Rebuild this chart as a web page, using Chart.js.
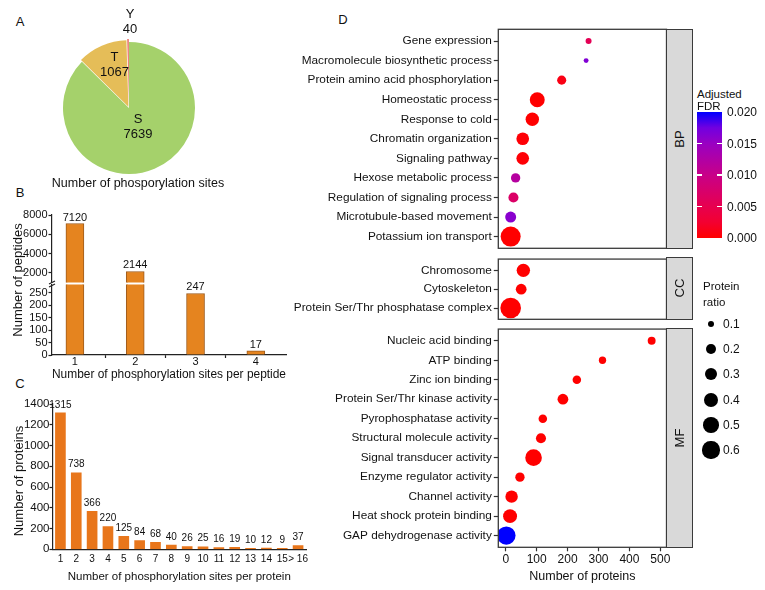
<!DOCTYPE html>
<html>
<head>
<meta charset="utf-8">
<script src="https://cdn.jsdelivr.net/npm/chart.js@4.4.1/dist/chart.umd.min.js"></script>
<style>
  html, body { margin: 0; padding: 0; background: #fff; }
  #page { position: relative; width: 765px; height: 590px; overflow: hidden; font-family: Arial, "Liberation Sans", sans-serif; color: #111; }
  canvas { position: absolute; }
  .c { position: absolute; transform: translate(-50%, -50%); white-space: nowrap; line-height: 1; }
  .l { position: absolute; transform: translateY(-50%); white-space: nowrap; line-height: 1; }
  .v { position: absolute; width: 140px; height: 16px; margin-left: -70px; margin-top: -8px; line-height: 16px;
       text-align: center; transform: rotate(-90deg); white-space: nowrap; color: #111; }
  .strip { position: absolute; background: #d9d9d9; border: 1.3px solid #3a3a3a; box-sizing: border-box; }
</style>
</head>
<body>
<div id="page">
  <div class="c" style="left:20px;top:21px;font-size:13px">A</div>
  <div class="c" style="left:20px;top:192px;font-size:13px">B</div>
  <div class="c" style="left:20px;top:383px;font-size:13px">C</div>
  <div class="c" style="left:343px;top:19px;font-size:13px">D</div>

  <canvas id="pie" width="138" height="138" style="left:60px;top:39px"></canvas>
  <div class="c" style="left:138px;top:183px;font-size:12.5px">Number of phosporylation sites</div>

  <canvas id="pepHigh" width="300" height="90" style="left:0;top:205px"></canvas>
  <canvas id="pepLow" width="300" height="115" style="left:0;top:270px"></canvas>
  <div class="v" style="left:18px;top:280px;font-size:13px">Number of peptides</div>

  <canvas id="prot" width="320" height="205" style="left:0;top:385px"></canvas>
  <div class="v" style="left:19px;top:481px;font-size:13px">Number of proteins</div>

  <canvas id="bp" width="390" height="240" style="left:290px;top:20px"></canvas>
  <canvas id="cc" width="390" height="80" style="left:290px;top:250px"></canvas>
  <canvas id="mf" width="390" height="270" style="left:290px;top:320px"></canvas>

  <div class="strip" style="left:666px;top:29px;width:27px;height:220px"></div>
  <div class="v" style="left:680px;top:139px;font-size:13px">BP</div>
  <div class="strip" style="left:666px;top:257px;width:27px;height:63px"></div>
  <div class="v" style="left:680px;top:288px;font-size:13px">CC</div>
  <div class="strip" style="left:666px;top:328px;width:27px;height:220px"></div>
  <div class="v" style="left:680px;top:438px;font-size:13px">MF</div>

  <div class="l" style="left:697px;top:95px;font-size:11.5px">Adjusted</div>
  <div class="l" style="left:697px;top:107px;font-size:11.5px">FDR</div>
  <div class="l" style="left:703px;top:287px;font-size:11.5px">Protein</div>
  <div class="l" style="left:703px;top:303px;font-size:11.5px">ratio</div>
  <div id="legends"></div>
</div>
<script>
// A: residue types
const residues = ['S', 'T', 'Y'];
const residueSites = [7639, 1067, 40];

// B: phosphorylation sites per peptide (axis broken between 283 and 1000)
const sitesPerPeptide = [1, 2, 3, 4];
const peptideCounts = [7120, 2144, 247, 17];
const peptideTicksHigh = [2000, 4000, 6000, 8000];
const peptideTicksLow = [0, 50, 100, 150, 200, 250];
const breakLow = 283;
const breakHigh = 1000;

// C: phosphorylation sites per protein
const sitesPerProtein = ['1', '2', '3', '4', '5', '6', '7', '8', '9', '10', '11', '12', '13', '14', '15', '> 16'];
const proteinCounts = [1315, 738, 366, 220, 125, 84, 68, 40, 26, 25, 16, 19, 10, 12, 9, 37];
const proteinTicks = [0, 200, 400, 600, 800, 1000, 1200, 1400];

// D: GO enrichment
const bpTerms = ['Gene expression', 'Macromolecule biosynthetic process', 'Protein amino acid phosphorylation',
  'Homeostatic process', 'Response to cold', 'Chromatin organization', 'Signaling pathway',
  'Hexose metabolic process', 'Regulation of signaling process', 'Microtubule-based movement', 'Potassium ion transport'];
const bpProteins = [268, 260, 181, 102, 86, 55, 55, 32, 25, 16, 16];
const bpRatio = [0.074, 0.05, 0.17, 0.46, 0.37, 0.33, 0.33, 0.18, 0.21, 0.25, 0.83];
const bpFdr = [0.0055, 0.0165, 0.001, 0, 0, 0.0003, 0.0003, 0.012, 0.007, 0.016, 0];

const ccTerms = ['Chromosome', 'Cytoskeleton', 'Protein Ser/Thr phosphatase complex'];
const ccProteins = [57, 50, 16];
const ccRatio = [0.37, 0.24, 0.88];
const ccFdr = [0, 0, 0];

const mfTerms = ['Nucleic acid binding', 'ATP binding', 'Zinc ion binding', 'Protein Ser/Thr kinase activity',
  'Pyrophosphatase activity', 'Structural molecule activity', 'Signal transducer activity',
  'Enzyme regulator activity', 'Channel activity', 'Heat shock protein binding', 'GAP dehydrogenase activity'];
const mfProteins = [472, 313, 230, 185, 120, 114, 90, 46, 19, 14, 2];
const mfRatio = [0.13, 0.11, 0.15, 0.24, 0.15, 0.21, 0.57, 0.18, 0.32, 0.40, 0.70];
const mfFdr = [0, 0, 0, 0, 0, 0, 0, 0, 0, 0, 0.02];

const goTicks = [0, 100, 200, 300, 400, 500];
const fdrTicks = [0, 0.005, 0.01, 0.015, 0.02];
const ratioLegend = [0.1, 0.2, 0.3, 0.4, 0.5, 0.6];

const FONT = 'Arial, "Liberation Sans", sans-serif';
Chart.defaults.font.family = FONT;
Chart.defaults.color = '#111';
Chart.defaults.animation = false;
Chart.defaults.events = [];
Chart.defaults.plugins.legend.display = false;
Chart.defaults.plugins.tooltip.enabled = false;

const AXIS = '#222';
const fdrMax = 0.02;
const fdrStops = [[0, [255, 0, 0]], [0.125, [243, 0, 49]], [0.25, [231, 0, 79]], [0.5, [200, 0, 136]],
  [0.75, [153, 0, 194]], [0.875, [113, 0, 224]], [1, [0, 0, 255]]];

function fdrColor(v) {
  const t = Math.min(Math.max(v / fdrMax, 0), 1);
  for (let i = 1; i < fdrStops.length; i++) {
    const [t0, c0] = fdrStops[i - 1];
    const [t1, c1] = fdrStops[i];
    if (t <= t1) {
      const f = (t - t0) / (t1 - t0);
      return 'rgb(' + c0.map((c, k) => Math.round(c + (c1[k] - c) * f)).join(',') + ')';
    }
  }
  return 'rgb(0,0,255)';
}

function bubbleRadius(ratio) {
  return 11 * Math.sqrt(ratio);
}

const fixWidth = w => scale => { scale.width = w; };
const fixHeight = h => scale => { scale.height = h; };
const setTicks = values => scale => { scale.ticks = values.map(value => ({ value })); };

const valueLabels = {
  id: 'valueLabels',
  afterDatasetsDraw(chart, args, opts) {
    const { ctx } = chart;
    const yScale = chart.scales.y;
    const ds = chart.data.datasets[0];
    ctx.save();
    ctx.font = opts.size + 'px ' + FONT;
    ctx.fillStyle = '#111';
    ctx.textAlign = 'center';
    ctx.textBaseline = 'bottom';
    chart.getDatasetMeta(0).data.forEach((bar, i) => {
      const raw = ds.data[i];
      const v = raw && typeof raw === 'object' ? raw.y : raw;
      if (v == null || v > yScale.max) return;
      ctx.fillText(String(v), bar.x, bar.y - opts.gap);
    });
    ctx.restore();
  }
};

const framePlugin = {
  id: 'frame',
  afterDatasetsDraw(chart) {
    const { ctx, chartArea: a } = chart;
    ctx.save();
    ctx.strokeStyle = '#3a3a3a';
    ctx.lineWidth = 1.3;
    ctx.strokeRect(a.left, a.top, a.right - a.left, a.bottom - a.top);
    ctx.restore();
  }
};

const axisBreak = {
  id: 'axisBreak',
  afterDraw(chart) {
    const { ctx, chartArea: a } = chart;
    ctx.save();
    ctx.strokeStyle = AXIS;
    ctx.lineWidth = 1.1;
    [-2, 1].forEach(d => {
      ctx.beginPath();
      ctx.moveTo(a.left - 3, a.top + d + 1.5);
      ctx.lineTo(a.left + 3, a.top + d - 1.5);
      ctx.stroke();
    });
    ctx.restore();
  }
};

// ---- A: pie
new Chart(document.getElementById('pie'), {
  type: 'pie',
  data: {
    labels: residues,
    datasets: [{
      data: residueSites,
      backgroundColor: ['#a5d16b', '#e5bd58', '#e8645c'],
      borderWidth: 0,
      offset: [0, 6, 6]
    }]
  },
  options: { responsive: false, layout: { padding: 0 } }
});

const pieLabelAt = [[138, 126], [114.5, 64], [130, 21]];
residues.forEach((r, i) => {
  const [x, y] = pieLabelAt[i];
  const el = document.createElement('div');
  el.className = 'c';
  el.style.cssText = `left:${x}px;top:${y}px;font-size:13px;line-height:15px;text-align:center`;
  el.innerHTML = r + '<br>' + residueSites[i];
  document.getElementById('page').appendChild(el);
});

// ---- B: broken-axis bars
const pepX = {
  type: 'linear', min: 0.62, max: 4.5, offset: false
};
const pepXTicks = [];
sitesPerPeptide.forEach((v, i) => {
  pepXTicks.push(v);
  if (i < sitesPerPeptide.length - 1) pepXTicks.push(v + 0.5);
});
const pepBar = {
  backgroundColor: '#e5841f',
  borderColor: '#9c5a1c',
  borderWidth: 1,
  barThickness: 18
};
const pepYBase = {
  border: { color: AXIS, width: 1.2 },
  grid: { drawOnChartArea: false, tickLength: 3.5, tickColor: AXIS, tickWidth: 1.2 },
  ticks: { font: { size: 11 }, padding: 1, autoSkip: false, callback: v => String(v) },
  afterFit: fixWidth(52)
};

new Chart(document.getElementById('pepHigh'), {
  type: 'bar',
  data: {
    datasets: [{
      ...pepBar,
      data: sitesPerPeptide.map((x, i) => ({ x, y: peptideCounts[i] > breakLow ? peptideCounts[i] : null }))
    }]
  },
  options: {
    responsive: false,
    layout: { padding: { top: 10, right: 14, bottom: 12.5, left: 0 } },
    scales: {
      x: { ...pepX, display: false, grid: { offset: false } },
      y: { ...pepYBase, min: breakHigh, max: 8000, afterBuildTicks: setTicks(peptideTicksHigh) }
    },
    plugins: { valueLabels: { size: 11, gap: 0.5 } }
  },
  plugins: [valueLabels]
});

new Chart(document.getElementById('pepLow'), {
  type: 'bar',
  data: {
    datasets: [{
      ...pepBar,
      clip: 0,
      data: sitesPerPeptide.map((x, i) => ({ x, y: peptideCounts[i] }))
    }]
  },
  options: {
    responsive: false,
    layout: { padding: { top: 14.5, right: 14, bottom: 0, left: 0 } },
    scales: {
      x: {
        ...pepX,
        afterBuildTicks: setTicks(pepXTicks),
        afterFit: fixHeight(30),
        border: { color: AXIS, width: 1.2 },
        grid: {
          offset: false, drawOnChartArea: false, tickLength: 3, tickWidth: 1.2,
          tickColor: ctx => Number.isInteger(ctx.tick && ctx.tick.value) ? 'rgba(0,0,0,0)' : AXIS
        },
        ticks: {
          font: { size: 11, lineHeight: 1 }, padding: -2, autoSkip: false, maxRotation: 0,
          callback: v => Number.isInteger(v) ? String(v) : ''
        },
        title: {
          display: true, text: 'Number of phosphorylation sites per peptide',
          font: { size: 12.5 }, color: '#111', padding: { top: 0, bottom: 3 }
        }
      },
      y: { ...pepYBase, min: 0, max: breakLow, afterBuildTicks: setTicks(peptideTicksLow) }
    },
    plugins: { valueLabels: { size: 11, gap: 0.5 } }
  },
  plugins: [valueLabels, axisBreak]
});

// ---- C: sites per protein
new Chart(document.getElementById('prot'), {
  type: 'bar',
  data: {
    labels: sitesPerProtein,
    datasets: [{ data: proteinCounts, backgroundColor: '#e8761b', borderWidth: 0, barThickness: 10 }]
  },
  options: {
    responsive: false,
    layout: { padding: { top: 19, right: 14, bottom: 2.7, left: 0 } },
    scales: {
      x: {
        afterFit: fixHeight(38),
        border: { color: AXIS, width: 1.2 },
        grid: { display: false, drawTicks: false },
        ticks: { font: { size: 10, lineHeight: 1 }, padding: 5, autoSkip: false, maxRotation: 0 },
        title: {
          display: true, text: 'Number of phosphorylation sites per protein',
          font: { size: 11.5 }, color: '#111', padding: { top: 0, bottom: 4 }
        }
      },
      y: {
        min: 0, max: 1400,
        afterBuildTicks: setTicks(proteinTicks),
        afterFit: fixWidth(52.5),
        border: { color: AXIS, width: 1.2 },
        grid: { drawOnChartArea: false, tickLength: 3, tickColor: AXIS, tickWidth: 1.2 },
        ticks: { font: { size: 11.5 }, padding: 0, autoSkip: false, callback: v => String(v) }
      }
    },
    plugins: { valueLabels: { size: 10, gap: 3 } }
  },
  plugins: [valueLabels]
});

// ---- D: GO bubble panels
function goChart(id, terms, proteins, ratio, fdr, pad, showX) {
  return new Chart(document.getElementById(id), {
    type: 'bubble',
    data: {
      datasets: [{
        data: terms.map((t, i) => ({ x: proteins[i], y: i, r: bubbleRadius(ratio[i]) })),
        backgroundColor: fdr.map(fdrColor),
        borderWidth: 0,
        hoverRadius: 0
      }]
    },
    options: {
      responsive: false,
      layout: { padding: pad, autoPadding: false },
      scales: {
        x: {
          type: 'linear', min: -24, max: 520,
          display: showX,
          afterBuildTicks: setTicks(goTicks),
          afterFit: showX ? fixHeight(40) : undefined,
          border: { display: false },
          grid: { drawOnChartArea: false, tickLength: 4, tickColor: '#333', tickWidth: 1.2 },
          ticks: { font: { size: 12, lineHeight: 1 }, padding: 2, autoSkip: false, maxRotation: 0, callback: v => String(v) },
          title: {
            display: true, text: 'Number of proteins',
            font: { size: 12.5 }, color: '#111', padding: { top: 0, bottom: 3 }
          }
        },
        y: {
          type: 'linear', reverse: true,
          min: -0.6, max: terms.length - 0.4,
          afterBuildTicks: setTicks(terms.map((t, i) => i)),
          afterFit: fixWidth(208.3),
          border: { display: false },
          grid: { drawOnChartArea: false, tickLength: 4.5, tickColor: '#333', tickWidth: 1.2 },
          ticks: { font: { size: 11.8 }, padding: 2, autoSkip: false, callback: v => terms[v] }
        }
      }
    },
    plugins: [framePlugin]
  });
}

goChart('bp', bpTerms, bpProteins, bpRatio, bpFdr, { top: 9.3, right: 13.5, bottom: 11.7, left: 0 }, false);
goChart('cc', ccTerms, ccProteins, ccRatio, ccFdr, { top: 7.3, right: 13.5, bottom: 10.7, left: 0 }, false);
goChart('mf', mfTerms, mfProteins, mfRatio, mfFdr, { top: 8.3, right: 13.5, bottom: 2.7, left: 0 }, true);

// ---- D legends: colour bar and size key
const legends = document.getElementById('legends');
const barTop = 112, barH = 126, barLeft = 697, barW = 25;
const bar = document.createElement('div');
bar.style.cssText = `position:absolute;left:${barLeft}px;top:${barTop}px;width:${barW}px;height:${barH}px;` +
  'background:linear-gradient(to top,' + fdrStops.map(([t, c]) => `rgb(${c}) ${t * 100}%`).join(',') + ')';
legends.appendChild(bar);
fdrTicks.forEach(v => {
  const y = barTop + barH - (v / fdrMax) * barH;
  if (v > 0 && v < fdrMax) {
    [barLeft, barLeft + barW - 5].forEach(x => {
      const d = document.createElement('div');
      d.style.cssText = `position:absolute;left:${x}px;top:${y - 0.6}px;width:5px;height:1.2px;background:#fff`;
      legends.appendChild(d);
    });
  }
  const lab = document.createElement('div');
  lab.className = 'l';
  lab.style.cssText = `left:727px;top:${y}px;font-size:12px`;
  lab.textContent = v.toFixed(3);
  legends.appendChild(lab);
});

ratioLegend.forEach((v, i) => {
  const y = 324 + i * 25.2;
  const r = bubbleRadius(v);
  const dot = document.createElement('div');
  dot.style.cssText = `position:absolute;left:${711 - r}px;top:${y - r}px;width:${2 * r}px;height:${2 * r}px;border-radius:50%;background:#000`;
  legends.appendChild(dot);
  const lab = document.createElement('div');
  lab.className = 'l';
  lab.style.cssText = `left:723px;top:${y}px;font-size:12px`;
  lab.textContent = String(v);
  legends.appendChild(lab);
});
</script>
</body>
</html>
